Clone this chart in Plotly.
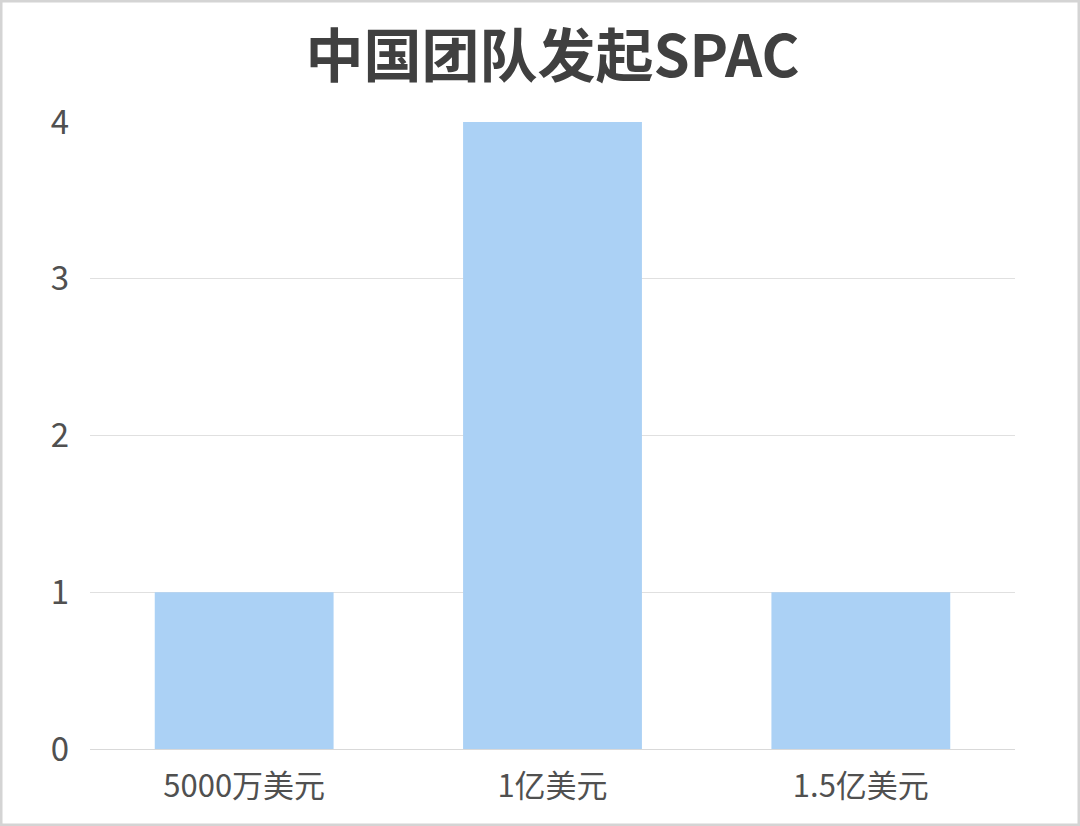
import plotly.graph_objects as go

categories = ["5000万美元", "1亿美元", "1.5亿美元"]
counts = [1, 4, 1]
y_ticks = [0, 1, 2, 3, 4]

W, H = 1080, 826
L, R, T, B = 90, 65, 122, 77

fig = go.Figure()
fig.add_trace(go.Bar(x=categories, y=counts, marker_color="#ABD1F5",
                     marker_line_width=0))

# light gray frame around the whole picture (paper coords from the margins)
pw, ph = W - L - R, H - T - B
fig.add_shape(type="rect", xref="paper", yref="paper",
              x0=-L / pw, x1=(W - L) / pw, y0=-B / ph, y1=(H - B) / ph,
              line=dict(color="#d4d4d4", width=5), layer="below")

fig.update_layout(
    width=W, height=H,
    margin=dict(l=L, r=R, t=T, b=B),
    paper_bgcolor="white", plot_bgcolor="white",
    bargap=0.42,
    showlegend=False,
    font=dict(family="Noto Sans CJK SC", color="#505050"),
    title=dict(text="<b>中国团队发起SPAC</b>", x=0.5, xref="paper", xanchor="center",
               y=1 - 57 / H, yanchor="middle",
               font=dict(size=58, color="#404040", family="Noto Sans CJK SC")),
    xaxis=dict(showgrid=False, showline=True, linecolor="#d9d9d9", linewidth=1,
               ticks="", tickfont=dict(size=31, color="#505050"), ticklabelstandoff=10),
    yaxis=dict(range=[0, 4], tickvals=y_ticks, showgrid=True, gridcolor="#e0e0e0",
               gridwidth=1, zeroline=False, showline=False, ticks="",
               tickfont=dict(size=33, color="#505050"), ticklabelstandoff=20),
)

# drop the default page margin so the figure sits at the window corner
fig.write_html("out.html", config={"displayModeBar": False},
               post_script="document.body.style.margin='0';")
